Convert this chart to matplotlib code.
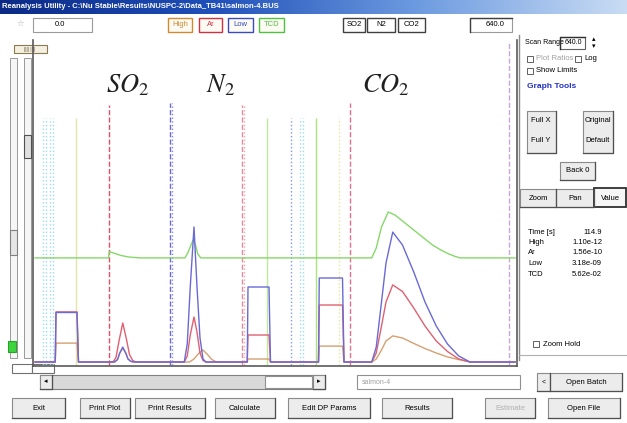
import matplotlib
matplotlib.use('Agg')
import matplotlib.pyplot as plt
import numpy as np
from matplotlib.patches import Rectangle
from matplotlib.colors import LinearSegmentedColormap

plt.rcParams['font.family'] = ['Liberation Sans', 'DejaVu Sans']
plt.rcParams['mathtext.fontset'] = 'stix'

# ---- data (time in s, signal normalised) ----
t_low = [0, 27, 28, 56, 58, 106, 110, 113, 117, 121, 124, 128, 132, 199, 203, 207, 212, 216, 220, 224,
         228, 283, 284, 312, 314, 378, 379, 410, 412, 449, 455, 462, 468, 477, 490, 505, 520, 535, 550, 565, 580, 640]
low = [0, 0, 0.165, 0.165, 0, 0, 0.008, 0.03, 0.05, 0.03, 0.01, 0.002, 0, 0, 0.06, 0.25, 0.45, 0.25, 0.08, 0.01,
       0, 0, 0.25, 0.25, 0, 0, 0.28, 0.28, 0, 0, 0.05, 0.2, 0.33, 0.433, 0.39, 0.3, 0.2, 0.12, 0.06, 0.02, 0, 0]

t_ar = [0, 27, 28, 56, 58, 104, 108, 112, 117, 122, 126, 130, 134, 199, 203, 207, 212, 216, 220, 224,
        228, 283, 284, 312, 314, 378, 379, 410, 412, 449, 455, 462, 468, 477, 490, 505, 520, 535, 550, 565, 580, 640]
ar = [0, 0, 0.167, 0.167, 0, 0, 0.015, 0.07, 0.13, 0.075, 0.025, 0.006, 0, 0, 0.02, 0.09, 0.15, 0.1, 0.03, 0.005,
      0, 0, 0.09, 0.09, 0, 0, 0.19, 0.19, 0, 0, 0.03, 0.12, 0.2, 0.257, 0.235, 0.18, 0.12, 0.07, 0.035, 0.01, 0, 0]

t_high = [0, 27, 28, 56, 58, 106, 110, 113, 117, 121, 124, 128, 132, 206, 212, 218, 224, 230, 236, 242,
          283, 284, 312, 314, 378, 379, 410, 412, 449, 455, 462, 468, 477, 490, 505, 520, 535, 550, 565, 580, 640]
high = [0, 0, 0.063, 0.063, 0, 0, 0.008, 0.03, 0.045, 0.03, 0.01, 0.002, 0, 0, 0.01, 0.028, 0.04, 0.025, 0.008, 0,
        0, 0.01, 0.01, 0, 0, 0.053, 0.053, 0, 0, 0.01, 0.04, 0.07, 0.087, 0.08, 0.062, 0.045, 0.03, 0.017, 0.008, 0, 0]

t_tcd = [0, 98, 99, 105, 115, 125, 140, 200, 204, 208, 211, 214, 217, 221, 449, 455, 462, 471, 480, 490,
         500, 510, 520, 530, 540, 550, 560, 567, 640]
tcd = [0.347, 0.347, 0.368, 0.363, 0.355, 0.35, 0.347, 0.347, 0.365, 0.39, 0.407, 0.39, 0.36, 0.347, 0.347, 0.38,
       0.45, 0.5, 0.49, 0.47, 0.45, 0.43, 0.41, 0.39, 0.375, 0.362, 0.352, 0.347, 0.347]

# event markers: time, top, colour, style
mark_t = [11, 15, 20, 24, 55, 99, 180, 183, 276, 278, 309, 341, 353, 357, 375, 405, 420, 632]
mark_top = [0.813, 0.813, 0.813, 0.813, 0.813, 0.857, 0.863, 0.863, 0.857, 0.857, 0.813, 0.813, 0.813, 0.813,
            0.813, 0.813, 0.863, 1.07]
mark_col = ['#9fdceb', '#9fdceb', '#9fdceb', '#9fdceb', '#e2e6a8', '#e0506a', '#6a6ad8', '#8a8ae0', '#e48a9a',
            '#e8a8b0', '#bfe89a', '#7d9be6', '#9fdceb', '#9fdceb', '#a8e57a', '#e6e69a', '#e8708c', '#c8a8d8']
mark_ls = [':', ':', ':', ':', '-', '--', '--', ':', '--', ':', '-', ':', ':', ':', '-', ':', '--', '--']

gas_labels = ['$SO_2$', '$N_2$', '$CO_2$']
gas_t = [123, 247, 467]

readout_names = ['Time [s]', 'High', 'Ar', 'Low', 'TCD']
readout_vals = ['114.9', '1.10e-12', '1.56e-10', '3.18e-09', '5.62e-02']

bottom_buttons = ['Exit', 'Print Plot', 'Print Results', 'Calculate', 'Edit DP Params', 'Results', 'Estimate', 'Open File']
bottom_x = [(12, 65), (80, 130), (135, 205), (215, 275), (288, 370), (382, 452), (485, 535), (548, 620)]

W, H = 627, 423
fig = plt.figure(figsize=(W / 100, H / 100), dpi=100)
fig.patch.set_facecolor('white')

bg = fig.add_axes([0, 0, 1, 1])
bg.set_xlim(0, W)
bg.set_ylim(H, 0)
bg.axis('off')


def box(x0, y0, x1, y1, fc='white', ec='#7a7a7a', lw=0.8, z=2):
    bg.add_patch(Rectangle((x0, y0), x1 - x0, y1 - y0, facecolor=fc, edgecolor=ec, linewidth=lw, zorder=z))


def button(x0, y0, x1, y1, label, color='black', fc='#ececec', ec='#8a8a8a', fs=5.5):
    box(x0, y0, x1, y1, fc=fc, ec=ec)
    bg.plot([x1, x1, x0], [y0, y1, y1], color='#505050', lw=0.9, zorder=3)
    bg.text((x0 + x1) / 2, (y0 + y1) / 2, label, ha='center', va='center', fontsize=fs, color=color, zorder=4)


# title bar
cmap = LinearSegmentedColormap.from_list('tb', ['#0b2a86', '#1f4fb8', '#6d9be0', '#c9dcf4'])
bg.imshow(np.linspace(0, 1, 256)[None, :], cmap=cmap, extent=(0, W, 14, 0), aspect='auto', zorder=1)
bg.text(2, 7, 'Reanalysis Utility - C:\\Nu Stable\\Results\\NUSPC-2\\Data_TB41\\salmon-4.BUS',
        color='white', fontsize=5.5, fontweight='bold', va='center', zorder=2)

# toolbar row
bg.text(20, 25, '\u2606', color='#b0b0b0', fontsize=6, ha='center', va='center')
box(33, 18, 92, 32, ec='#9a9a9a')
bg.text(55, 25, '0.0', fontsize=5.5, va='center')
for (x0, x1), lab, c in zip([(168, 192), (199, 222), (228, 253), (259, 284)],
                            ['High', 'Ar', 'Low', 'TCD'],
                            ['#d08a30', '#d03040', '#3a4ac0', '#50c040']):
    box(x0, 18, x1, 32, fc='#fbfbf4', ec=c, lw=1.0)
    bg.text((x0 + x1) / 2, 25, lab, color=c, fontsize=5.5, ha='center', va='center', zorder=4)
for (x0, x1), lab in zip([(343, 365), (367, 395), (398, 425)], ['SO2', 'N2', 'CO2']):
    box(x0, 18, x1, 32, ec='#404040', lw=1.0)
    bg.text((x0 + x1) / 2, 25, lab, fontsize=5.5, ha='center', va='center', zorder=4)
box(470, 18, 512, 32, ec='#9a9a9a')
bg.plot([470, 470, 512], [32, 18, 18], color='#404040', lw=1.0, zorder=3)
bg.text(505, 25, '640.0', fontsize=5.5, ha='right', va='center', zorder=4)

# left slider strip
box(14, 45, 47, 53, fc='#f4f0e0', ec='#8a7a50')
bg.text(30, 49, '|||| ||||', fontsize=3.5, ha='center', va='center', color='#6a5a40', zorder=4)
for xs in [(10, 17), (24, 31)]:
    box(xs[0], 58, xs[1], 358, fc='#f6f6f6', ec='#9a9a9a', lw=0.7)
box(24, 135, 31, 158, fc='#e0e0e0', ec='#505050')
box(10, 230, 17, 255, fc='#e6e6e6', ec='#808080')
box(8, 341, 16, 352, fc='#3ed43e', ec='#2aa02a')
box(12, 364, 32, 373, ec='#707070')
box(32, 364, 54, 373, ec='#707070')

# right panel
bg.plot([519, 519], [35, 360], color='#8a8a8a', lw=1.0)
bg.plot([519, 627], [355, 355], color='#b0b0b0', lw=0.8)
bg.text(525, 43, 'Scan Range', fontsize=5, va='center')
box(560, 37, 585, 49, ec='#606060')
bg.plot([560, 560, 585], [49, 37, 37], color='#303030', lw=1.0, zorder=3)
bg.text(582, 43, '640.0', fontsize=5, va='center', ha='right', zorder=4)
bg.text(594, 40, '\u25b4', fontsize=5, ha='center', va='center')
bg.text(594, 47, '\u25be', fontsize=5, ha='center', va='center')
for cx, cy, lab, col in [(530, 59, 'Plot Ratios', '#a0a0a0'), (578, 59, 'Log', 'black'), (530, 71, 'Show Limits', 'black')]:
    box(cx - 3, cy - 3, cx + 3, cy + 3, ec='#606060', lw=0.7)
    bg.text(cx + 6, cy, lab, fontsize=5.5, va='center', color=col)
bg.text(527, 87, 'Graph Tools', fontsize=6, fontweight='bold', color='#2030c0', va='center')
box(527, 111, 556, 153, fc='#ececec', ec='#8a8a8a')
bg.plot([556, 556, 527], [111, 153, 153], color='#505050', lw=0.9, zorder=3)
bg.text(541, 121, 'Full X', fontsize=5.5, ha='center', va='center', zorder=4)
bg.text(541, 141, 'Full Y', fontsize=5.5, ha='center', va='center', zorder=4)
box(583, 111, 613, 153, fc='#ececec', ec='#8a8a8a')
bg.plot([613, 613, 583], [111, 153, 153], color='#505050', lw=0.9, zorder=3)
bg.text(598, 121, 'Original', fontsize=5.5, ha='center', va='center', zorder=4)
bg.text(598, 141, 'Default', fontsize=5.5, ha='center', va='center', zorder=4)
button(560, 162, 595, 180, 'Back 0')
button(520, 189, 556, 207, 'Zoom')
button(556, 189, 594, 207, 'Pan')
box(594, 188, 626, 207, fc='#f6f6f6', ec='#303030', lw=1.3)
bg.text(610, 198, 'Value', fontsize=5.5, ha='center', va='center', zorder=4)
for i, (n, v) in enumerate(zip(readout_names, readout_vals)):
    y = 232 + i * 10.5
    bg.text(528, y, n, fontsize=5.5, va='center')
    bg.text(602, y, v, fontsize=5.5, va='center', ha='right')
box(533, 341, 539, 347, ec='#606060', lw=0.7)
bg.text(543, 344, 'Zoom Hold', fontsize=5.5, va='center')

# scrollbar, file box, batch buttons
box(40, 375, 325, 389, fc='#d9d9d9', ec='#808080')
box(265, 376, 312, 388, fc='white', ec='#909090')
button(40, 375, 52, 389, '\u25c2', fs=5)
button(313, 375, 325, 389, '\u25b8', fs=5)
box(357, 375, 520, 389, ec='#909090')
bg.text(362, 382, 'salmon-4', fontsize=5, color='#a0a0a0', va='center', zorder=4)
button(537, 373, 550, 391, '<', fs=5)
button(550, 373, 622, 391, 'Open Batch')
for (x0, x1), lab in zip(bottom_x, bottom_buttons):
    button(x0, 398, x1, 418, lab, color='#b0b0b0' if lab == 'Estimate' else 'black')

# ---- chart ----
ax = fig.add_axes([33 / W, (H - 366) / H, 484 / W, 326 / H])
ax.set_xlim(-2.67, 642.67)
ax.set_ylim(-0.0133, 1.0733)
ax.set_xticks([])
ax.set_yticks([])
ax.patch.set_alpha(0)
ax.spines['top'].set_visible(False)
for s in ['left', 'bottom', 'right']:
    ax.spines[s].set_color('#5a5a5a')
    ax.spines[s].set_linewidth(1.2)

for t, top, c, ls in zip(mark_t, mark_top, mark_col, mark_ls):
    ax.vlines(t, -0.01, top, colors=c, linestyles=ls, linewidth=1.0)

ax.plot(t_tcd, tcd, color='#86d86a', lw=1.0)
ax.plot(t_high, high, color='#d4a070', lw=1.0)
ax.plot(t_ar, ar, color='#e06070', lw=1.0)
ax.plot(t_low, low, color='#6a6ad6', lw=1.0)

for lab, t in zip(gas_labels, gas_t):
    ax.text(t, 0.9, lab, fontsize=19, ha='center', va='baseline', color='#202020')

fig.savefig('out.png', dpi=100)
